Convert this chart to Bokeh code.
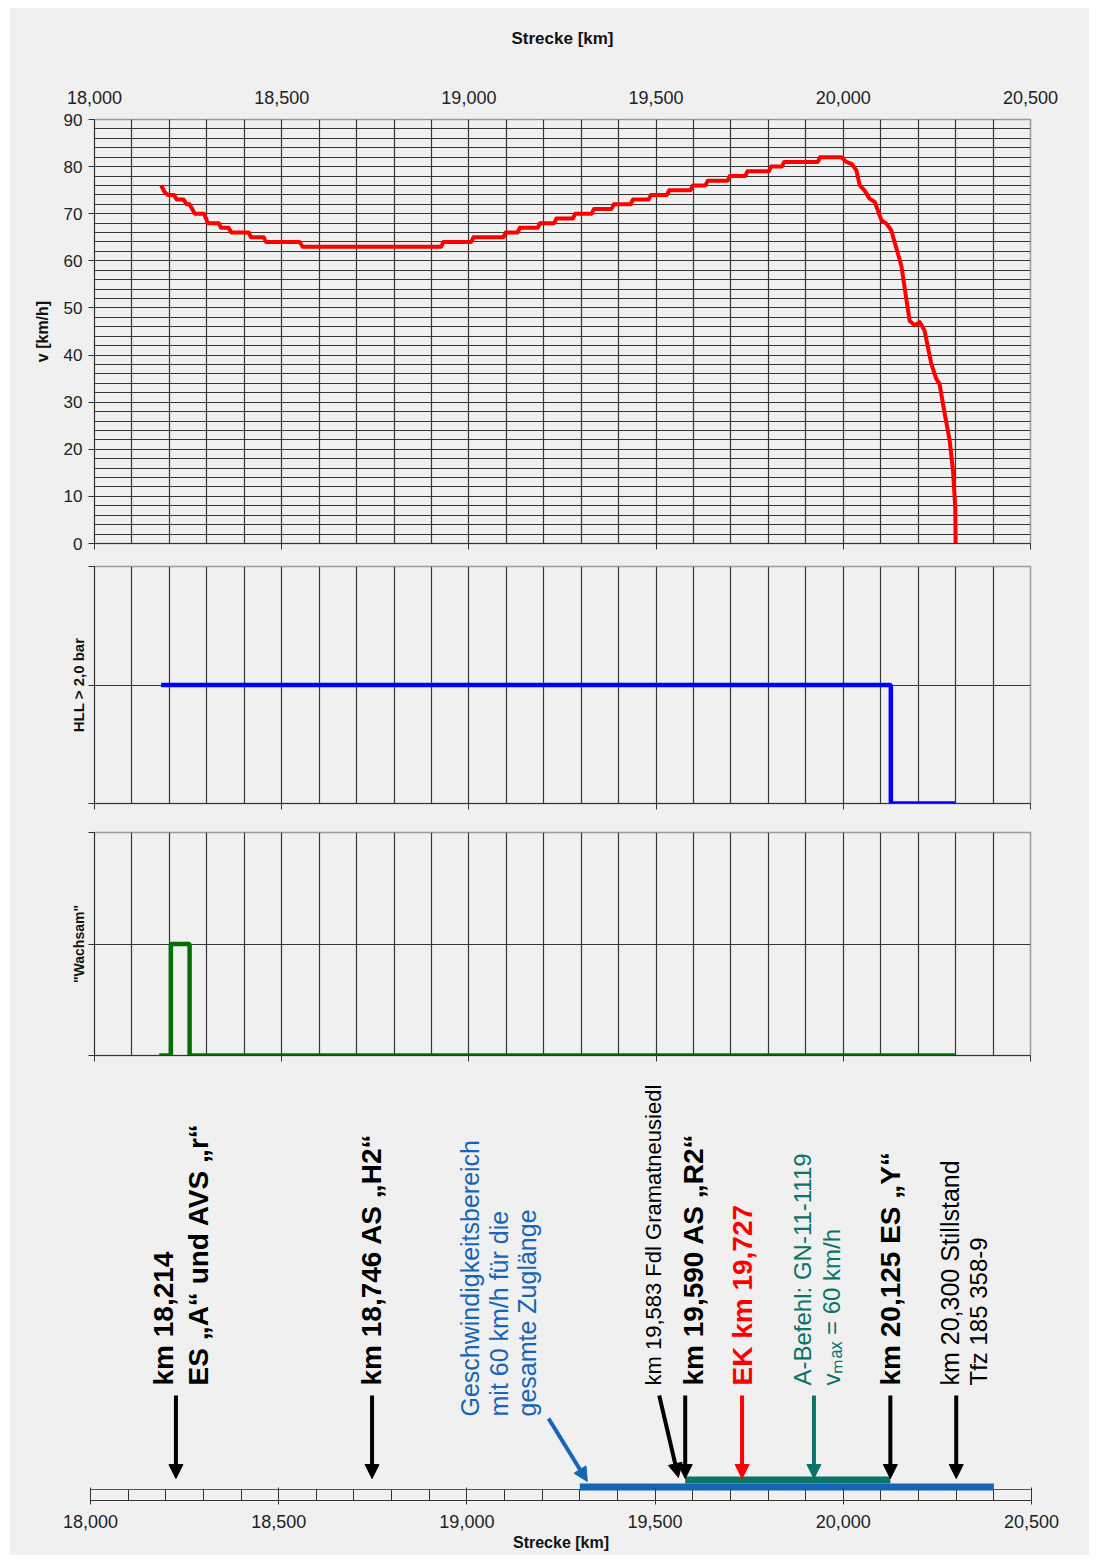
import numpy as np
from bokeh.plotting import figure
from bokeh.layouts import column, row
from bokeh.models import (Range1d, SingleIntervalTicker, FixedTicker, LinearAxis,
                          NumeralTickFormatter, CustomJSTickFormatter, ColumnDataSource,
                          Arrow, NormalHead, Span)
from bokeh.core.properties import value, field
from bokeh.embed import file_html
from bokeh.resources import INLINE

# ---------------- data ----------------
speed_km = [18178, 18188, 18196, 18212, 18220, 18238, 18246, 18254, 18268, 18292, 18298, 18302,
            18332, 18338, 18358, 18366, 18412, 18418, 18452, 18458, 18548, 18556, 18926, 18932,
            19006, 19012, 19092, 19098, 19130, 19136, 19184, 19190, 19228, 19234, 19278, 19284,
            19328, 19334, 19381, 19387, 19432, 19438, 19480, 19486, 19529, 19535, 19592, 19598,
            19632, 19638, 19691, 19697, 19738, 19744, 19801, 19807, 19836, 19842, 19932, 19938,
            19995, 20008, 20022, 20035, 20044, 20057, 20070, 20084, 20102, 20115, 20128, 20155,
            20177, 20191, 20204, 20217, 20235, 20248, 20257, 20271, 20284, 20293, 20299, 20300]
speed_v = [76, 74.5, 74, 74, 73, 73, 72, 72, 70, 70, 69, 68,
           68, 67, 67, 66, 66, 65, 65, 64, 64, 63, 63, 64,
           64, 65, 65, 66, 66, 67, 67, 68, 68, 69, 69, 70,
           70, 71, 71, 72, 72, 73, 73, 74, 74, 75, 75, 76,
           76, 77, 77, 78, 78, 79, 79, 80, 80, 81, 81, 82,
           82, 81, 80.6, 79.2, 76, 74.9, 73.2, 72.5, 68.6, 67.9, 66.5, 59,
           47.3, 46.3, 47, 45.2, 38.2, 35, 33.9, 27.5, 21.9, 15.5, 7.7, 0]

hll_km = [18178, 20127, 20127, 20298]
hll_val = [1, 1, 0, 0]

wach_km = [18173, 18204, 18204, 18254, 18254, 20298]
wach_val = [0, 0, 1, 1, 0, 0]

zone_start = [19300, 19580]
zone_end = [20400, 20125]

marker_km = [18227, 18748, 19580, 19731, 19922, 20125, 20300]
diag_start_km = [19217, 19511]
diag_end_km = [19320, 19562]

label_text = ["km 18,214", "ES \u201eA\u201c und AVS \u201er\u201c", "km 18,746 AS \u201eH2\u201c",
              "Geschwindigkeitsbereich", "mit 60 km/h f\u00fcr die", "gesamte Zugl\u00e4nge",
              "km 19,583 Fdl Gramatneusiedl", "km 19,590 AS \u201eR2\u201c", "EK km 19,727",
              "A-Befehl: GN-11-1119", "v\u2098\u2090\u2093 = 60 km/h", "km 20,125 ES \u201eY\u201c",
              "km 20,300 Stillstand", "Tfz 185 358-9"]
label_km = [18227, 18227, 18748, 19217, 19217, 19217, 19511, 19580, 19731, 19922, 19922,
            20125, 20300, 20300]

# ---------------- styles / layout ----------------
FONT = "Liberation Sans"
BG = "#f0f0f0"
GRID = "#363636"
BLACK = "#000000"
RED = "#ff0000"
TEAL = "#0b7367"
BLUE = "#1565b8"

marker_color = [BLACK, BLACK, BLACK, RED, TEAL, BLACK, BLACK]
diag_color = [BLUE, BLACK]
zone_color = [BLUE, TEAL]
zone_bottom = [10, 17]
zone_top = [17, 24]

label_dx = [-12, 23, -1, -79, -50, -22, -6, 8, 0, -11, 18, 0, -6, 22]
label_y = [115, 115, 115, 84, 84, 84, 115, 115, 115, 115, 115, 115, 115, 115]
label_color = [BLACK, BLACK, BLACK, BLUE, BLUE, BLUE, BLACK, BLACK, RED, TEAL, TEAL, BLACK, BLACK, BLACK]
label_size = ["28px", "28px", "28px", "25px", "25px", "25px", "22px", "28px", "28px",
              "24px", "24px", "28px", "25px", "24px"]
label_style = ["bold", "bold", "bold", "normal", "normal", "normal", "normal", "bold", "bold",
               "normal", "normal", "bold", "normal", "normal"]

xr = Range1d(18000, 20500)
blank = CustomJSTickFormatter(code="return ''")


def panel(frame_h, top, bottom, y_range, left=84, fw=936, right=59, **kw):
    p = figure(frame_width=fw, frame_height=frame_h, x_range=xr, y_range=y_range,
               min_border_left=left, min_border_right=right, min_border_top=top,
               min_border_bottom=bottom, toolbar_location=None, output_backend="svg",
               background_fill_color=BG, border_fill_color=BG,
               outline_line_color="#9a9a9a", outline_line_width=1.5, **kw)
    return p


def style_axis(ax, size="18px"):
    ax.major_label_text_font = FONT
    ax.major_label_text_font_size = size
    ax.major_label_text_color = "#222222"
    ax.axis_label_text_font = FONT
    ax.axis_label_text_font_style = "bold"
    ax.axis_label_text_color = "#111111"
    ax.axis_line_color = "#333333"
    ax.major_tick_line_color = "#333333"
    ax.minor_tick_line_color = "#333333"


# ---------- panel 1: speed ----------
p1 = panel(424, 111, 11, Range1d(0, 90))
p1.xaxis.ticker = SingleIntervalTicker(interval=500, num_minor_ticks=0)
p1.xaxis.formatter = blank
p1.xaxis.major_tick_out = 6
p1.xaxis.major_tick_in = 0
p1.xaxis.major_label_standoff = 0
style_axis(p1.xaxis[0])

top_ax = LinearAxis(ticker=SingleIntervalTicker(interval=500, num_minor_ticks=0),
                    formatter=NumeralTickFormatter(format="0,0"), axis_label="Strecke [km]")
style_axis(top_ax)
top_ax.axis_line_color = None
top_ax.major_tick_out = 0
top_ax.major_tick_in = 0
top_ax.major_label_standoff = 16
top_ax.axis_label_standoff = 40
top_ax.axis_label_text_font_size = "17px"
p1.add_layout(top_ax, "above")

p1.yaxis.ticker = SingleIntervalTicker(interval=10, num_minor_ticks=0)
p1.yaxis.axis_label = "v [km/h]"
style_axis(p1.yaxis[0], "17px")
p1.yaxis.major_tick_out = 6
p1.yaxis.major_tick_in = 0
p1.yaxis.major_label_standoff = 6
p1.yaxis.axis_label_standoff = 10
p1.yaxis.axis_label_text_font_size = "16px"

p1.xgrid.ticker = SingleIntervalTicker(interval=100)
p1.ygrid.ticker = SingleIntervalTicker(interval=2)
for g in (p1.xgrid, p1.ygrid):
    g.grid_line_color = GRID
    g.grid_line_width = 1.2

p1.line(speed_km, speed_v, line_color=RED, line_width=4, line_join="round")


# ---------- panels 2 & 3: binary signals ----------
def binary_panel(frame_h, top, bottom, label, size):
    p = panel(frame_h, top, bottom, Range1d(0, 2))
    p.xaxis.ticker = SingleIntervalTicker(interval=500, num_minor_ticks=0)
    p.xaxis.formatter = blank
    p.xaxis.major_tick_out = 6
    p.xaxis.major_tick_in = 0
    p.xaxis.major_label_standoff = 0
    style_axis(p.xaxis[0])
    p.yaxis.ticker = FixedTicker(ticks=[0, 1, 2])
    p.yaxis.formatter = blank
    p.yaxis.major_tick_out = 6
    p.yaxis.major_tick_in = 0
    p.yaxis.major_label_standoff = 0
    p.yaxis.axis_label = label
    style_axis(p.yaxis[0])
    p.yaxis.axis_label_text_font_size = size
    p.yaxis.axis_label_standoff = 2
    p.xgrid.ticker = SingleIntervalTicker(interval=100)
    p.ygrid.ticker = FixedTicker(ticks=[1])
    for g in (p.xgrid, p.ygrid):
        g.grid_line_color = GRID
        g.grid_line_width = 1.2
    return p


p2 = binary_panel(237, 12, 14, "HLL > 2,0 bar", "15px")
p2.line(hll_km, hll_val, line_color="#0000ff", line_width=4.5)

p3 = binary_panel(223, 15, 10, "\"Wachsam\"", "14px")
p3.line(wach_km, wach_val, line_color="#007000", line_width=4.5)

# ---------- panel 4: annotations ----------
p4 = panel(435, 0, 55, Range1d(0, 435), left=80, fw=941, right=58, y_axis_location=None)
p4.outline_line_color = None
p4.xgrid.visible = False
p4.ygrid.visible = False
p4.xaxis.ticker = SingleIntervalTicker(interval=500, num_minor_ticks=5)
p4.xaxis.formatter = NumeralTickFormatter(format="0,0")
p4.xaxis.axis_label = "Strecke [km]"
style_axis(p4.xaxis[0])
p4.xaxis.major_tick_in = 13
p4.xaxis.major_tick_out = 4
p4.xaxis.minor_tick_in = 11
p4.xaxis.minor_tick_out = 0
p4.xaxis.major_label_standoff = 10
p4.xaxis.axis_label_standoff = 3
p4.xaxis.axis_label_text_font_size = "16px"
p4.add_layout(Span(location=11, dimension="width", line_color="#555555", line_width=1.2))

p4.quad(left=zone_start, right=zone_end, bottom=zone_bottom, top=zone_top,
        fill_color=zone_color, line_color=None)

n = len(marker_km)
vsrc = ColumnDataSource(dict(x0=marker_km, x1=marker_km, y0=[105] * n, y1=[22] * n,
                             c=marker_color))
p4.add_layout(Arrow(x_start="x0", y_start="y0", x_end="x1", y_end="y1", source=vsrc,
                    line_color=field("c"), line_width=4,
                    end=NormalHead(size=14, fill_color=field("c"), line_color=field("c"))))
dsrc = ColumnDataSource(dict(x0=diag_start_km, x1=diag_end_km, y0=[82, 105], y1=[19, 23],
                             c=diag_color))
p4.add_layout(Arrow(x_start="x0", y_start="y0", x_end="x1", y_end="y1", source=dsrc,
                    line_color=field("c"), line_width=4,
                    end=NormalHead(size=14, fill_color=field("c"), line_color=field("c"))))

tsrc = ColumnDataSource(dict(x=label_km, y=label_y, t=label_text, dx=label_dx, c=label_color,
                             fs=label_size, st=label_style))
p4.text(x="x", y="y", text="t", source=tsrc, angle=np.pi / 2, x_offset="dx",
        text_align="left", text_baseline="middle", text_font=value(FONT),
        text_font_size=field("fs"), text_font_style=field("st"), text_color=field("c"))

layout = column(column(p1, p2, p3, spacing=0, styles={"background-color": BG}),
                row(p4, styles={"background-color": BG}),
                spacing=0, margin=(8, 0, 0, 10), styles={"background-color": BG})

open("out.html", "w").write(file_html(layout, INLINE))
